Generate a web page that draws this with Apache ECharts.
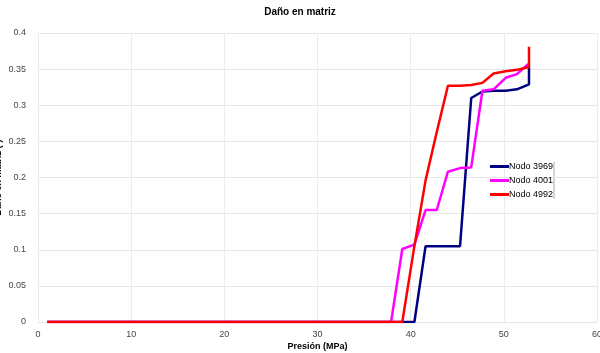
<!DOCTYPE html>
<html>
<head>
<meta charset="utf-8">
<script src="https://cdn.jsdelivr.net/npm/echarts@6/dist/echarts.min.js"></script>
<style>
    html, body { margin: 0; padding: 0; background: #fff; }
    #chart { width: 600px; height: 353px; }
</style>
</head>
<body>
<div id="chart"></div>
<script>
    // datos: [presion, dano]
    const nodo3969 = [[1, 0], [37.9, 0], [39.1, 0], [40.4, 0], [41.6, 0.105], [42.8, 0.105], [44.0, 0.105], [45.3, 0.105],
        [46.5, 0.31], [47.7, 0.319], [48.9, 0.32], [50.2, 0.32], [51.4, 0.322], [52.7, 0.329], [52.7, 0.353]]
    const nodo4001 = [[1, 0], [37.9, 0], [39.1, 0.101], [40.4, 0.107], [41.6, 0.155], [42.8, 0.155], [44.0, 0.208],
        [45.3, 0.213], [46.5, 0.214], [47.7, 0.32], [48.9, 0.322], [50.2, 0.338], [51.4, 0.343], [52.6, 0.357], [52.7, 0.353]]
    const nodo4992 = [[1, 0], [37.9, 0], [39.1, 0], [40.4, 0.105], [41.6, 0.196], [42.8, 0.263], [44.0, 0.327], [45.3, 0.327],
        [46.5, 0.328], [47.7, 0.331], [48.9, 0.344], [50.2, 0.347], [51.4, 0.349], [52.7, 0.353], [52.7, 0.381]]
    const nombres = ['Nodo 3969', 'Nodo 4001', 'Nodo 4992']
    const colores = ['#000080', '#ff00ff', '#ff0000']

    const chartDom = document.getElementById('chart')
    const myChart = echarts.init(chartDom)
    const fuente = 'Liberation Sans'

    let option = {
        animation: false,
        title: {
            text: 'Daño en matriz',
            left: 'center',
            top: 2,
            textStyle: { fontFamily: fuente, fontSize: 10, fontWeight: 'bold', color: '#000' }
        },
        legend: {
            orient: 'vertical',
            left: 485,
            top: 157,
            itemWidth: 19,
            itemHeight: 3,
            itemGap: 5,
            icon: 'rect',
            textStyle: { fontFamily: fuente, fontSize: 9, color: '#000', padding: [0, 0, 0, -5] },
            data: nombres
        },
        graphic: [{
            type: 'line',
            shape: { x1: 554, y1: 162, x2: 554, y2: 199 },
            style: { stroke: '#aaa', lineWidth: 1 }
        }],
        grid: { left: 38, right: 3, top: 33, bottom: 31, outerBoundsMode: 'none', containLabel: false },
        xAxis: {
            type: 'value',
            min: 0,
            max: 60,
            interval: 10,
            name: 'Presión (MPa)',
            nameLocation: 'middle',
            nameGap: 20,
            nameMoveOverlap: false,
            nameTextStyle: { fontFamily: fuente, fontSize: 9, fontWeight: 'bold', color: '#000' },
            axisLine: { show: false },
            axisTick: { show: false },
            axisLabel: { fontFamily: fuente, fontSize: 9, color: '#444', margin: 8 },
            splitLine: { lineStyle: { color: '#ececec' } }
        },
        yAxis: {
            type: 'value',
            min: 0,
            max: 0.4,
            interval: 0.05,
            name: 'Daño en matriz (-)',
            nameLocation: 'middle',
            nameGap: 35,
            nameMoveOverlap: false,
            nameTextStyle: { fontFamily: fuente, fontSize: 9, fontWeight: 'bold', color: '#000' },
            axisLine: { show: false },
            axisTick: { show: false },
            axisLabel: { fontFamily: fuente, fontSize: 9, color: '#444', margin: 12 },
            splitLine: { lineStyle: { color: '#e6e6e6' } }
        },
        series: [nodo3969, nodo4001, nodo4992].map((d, i) => ({
            name: nombres[i],
            type: 'line',
            data: d,
            showSymbol: false,
            itemStyle: { color: colores[i] },
            lineStyle: { color: colores[i], width: 2.5 }
        }))
    }
    option && myChart.setOption(option)
</script>
</body>
</html>
